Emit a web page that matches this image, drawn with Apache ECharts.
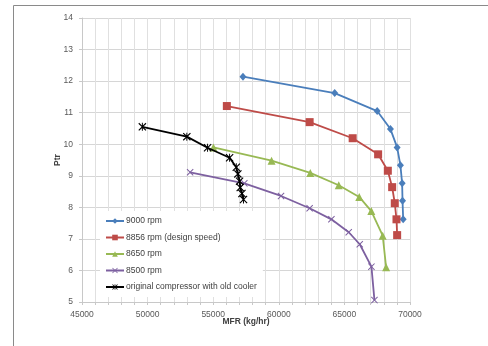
<!DOCTYPE html>
<html>
<head>
<meta charset="utf-8">
<script src="https://cdn.jsdelivr.net/npm/echarts@6/dist/echarts.min.js"></script>
<style>
html,body{margin:0;padding:0;background:#fff;}
#chart{width:488px;height:346px;}
</style>
</head>
<body>
<div id="chart"></div>
<script>
// ---- data ----
const seriesNames = ['9000 rpm', '8856 rpm (design speed)', '8650 rpm', '8500 rpm', 'original compressor with old cooler'];

const mfr9000 = [57270, 64260, 67500, 68510, 69020, 69270, 69400, 69430, 69480];
const ptr9000 = [12.14, 11.62, 11.05, 10.48, 9.90, 9.33, 8.76, 8.21, 7.62];

const mfr8856 = [56040, 62350, 65630, 67570, 68310, 68640, 68840, 68970, 69020];
const ptr8856 = [11.21, 10.70, 10.19, 9.68, 9.16, 8.64, 8.13, 7.62, 7.12];

const mfr8650 = [55020, 59450, 62400, 64570, 66130, 67050, 67920, 68180];
const ptr8650 = [9.90, 9.48, 9.09, 8.70, 8.33, 7.88, 7.10, 6.10];

const mfr8500 = [53240, 57370, 60170, 62350, 64010, 65330, 66170, 67060, 67290];
const ptr8500 = [9.11, 8.76, 8.36, 7.97, 7.62, 7.21, 6.83, 6.12, 5.06];

const mfrOrig = [49600, 52990, 54570, 56250, 56760, 56880, 57010, 57060, 57190, 57310];
const ptrOrig = [10.55, 10.24, 9.89, 9.57, 9.27, 9.06, 8.83, 8.63, 8.44, 8.25];

const xTicks = { min: 45000, max: 70000, step: 1000, labelStep: 5000 };
const yTicks = { min: 5, max: 14, step: 1 };

// ---- build ----
const zip = (xs, ys) => xs.map((x, i) => [x, ys[i]]);
const xPath = 'path://M0,1 L1,0 L5,4 L9,0 L10,1 L6,5 L10,9 L9,10 L5,6 L1,10 L0,9 L4,5 Z';
const starPath = 'path://M0,1 L1,0 L5,4 L9,0 L10,1 L6,5 L10,9 L9,10 L5,6 L1,10 L0,9 L4,5 Z M4.4,0 L5.6,0 L5.6,10 L4.4,10 Z';

const colors = ['#4a7ebb', '#be4b48', '#98b954', '#7d60a0', '#000000'];
const symbols = ['diamond', 'rect', 'triangle', xPath, starPath];
const sizes = [[7, 8], 8, 8, 7, 8];
const dataSets = [zip(mfr9000, ptr9000), zip(mfr8856, ptr8856), zip(mfr8650, ptr8650), zip(mfr8500, ptr8500), zip(mfrOrig, ptrOrig)];

const series = seriesNames.map((name, i) => ({
  name: name,
  type: 'line',
  data: dataSets[i],
  symbol: symbols[i],
  symbolSize: sizes[i],
  showAllSymbol: true,
  lineStyle: { color: colors[i], width: 1.8 },
  itemStyle: { color: colors[i] },
  emphasis: { disabled: true },
  animation: false,
  z: i === 4 ? 5 : 2
}));

const FONT = '"Liberation Sans", Arial, sans-serif';
const chart = echarts.init(document.getElementById('chart'), null, { renderer: 'canvas' });
chart.setOption({
  animation: false,
  backgroundColor: '#fff',
  graphic: [{
    type: 'rect', shape: { x: 13.5, y: 5.5, width: 700, height: 700 },
    style: { fill: 'none', stroke: '#8a8a8a', lineWidth: 1 }, z: -10, silent: true
  }],
  grid: { left: 82, right: 78, top: 18, bottom: 44, containLabel: false },
  xAxis: {
    type: 'value', min: xTicks.min, max: xTicks.max, interval: xTicks.step,
    name: 'MFR (kg/hr)', nameLocation: 'middle', nameGap: 15, nameMoveOverlap: false,
    nameTextStyle: { fontFamily: FONT, fontSize: 8.5, fontWeight: 'bold', color: '#404040' },
    axisLine: { show: true, lineStyle: { color: '#c8c8c8', width: 1 } },
    axisTick: { show: true, length: 3, lineStyle: { color: '#c8c8c8' } },
    axisLabel: {
      fontFamily: FONT, fontSize: 8.5, color: '#595959', margin: 8.5,
      showMinLabel: true, showMaxLabel: true,
      formatter: v => (v % xTicks.labelStep === 0 ? String(v) : '')
    },
    splitLine: { show: true, lineStyle: { color: '#e0e0e0', width: 1 } }
  },
  yAxis: {
    type: 'value', min: yTicks.min, max: yTicks.max, interval: yTicks.step,
    name: 'Ptr', nameLocation: 'middle', nameGap: 20, nameRotate: 90, nameMoveOverlap: false,
    nameTextStyle: { fontFamily: FONT, fontSize: 8.5, fontWeight: 'bold', color: '#404040' },
    axisLine: { show: true, lineStyle: { color: '#c8c8c8', width: 1 } },
    axisTick: { show: true, length: 3, lineStyle: { color: '#c8c8c8' } },
    axisLabel: { fontFamily: FONT, fontSize: 8.5, color: '#595959', margin: 9 },
    splitLine: { show: true, lineStyle: { color: '#d6d6d6', width: 1 } }
  },
  legend: {
    orient: 'vertical', left: 100, top: 211,
    backgroundColor: '#ffffff',
    padding: [4, 6, 4, 5],
    itemWidth: 18, itemHeight: 7, itemGap: 4.5,
    textStyle: { fontFamily: FONT, fontSize: 8.5, color: '#404040', lineHeight: 12, padding: [0, 0, 0, -3] },
    data: seriesNames
  },
  series: series
});
</script>
</body>
</html>
